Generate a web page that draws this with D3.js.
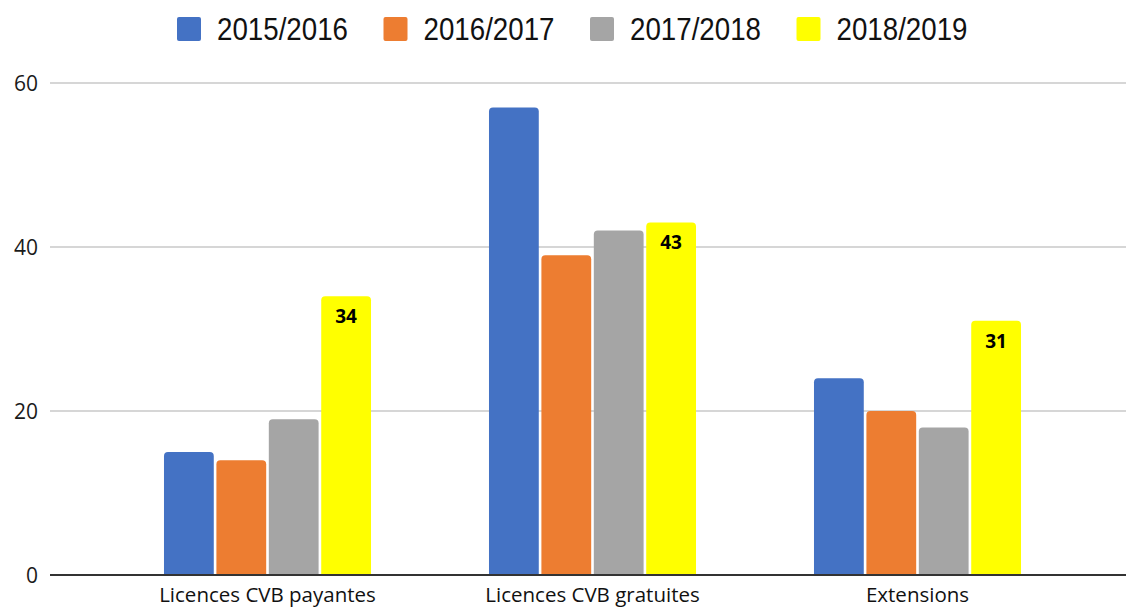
<!DOCTYPE html>
<html>
<head>
<meta charset="utf-8">
<script src="https://cdn.jsdelivr.net/npm/d3@7"></script>
<style>
  body { margin: 0; background: #fff; }
  svg { display: block; }
</style>
</head>
<body>
<svg id="chart" width="1126" height="608"></svg>
<script>
// data
var categories = ['Licences CVB payantes', 'Licences CVB gratuites', 'Extensions'];
var seasons = ['2015/2016', '2016/2017', '2017/2018', '2018/2019'];
var colors = ['#4472C4', '#ED7D31', '#A5A5A5', '#FFFF00'];
var values = [
	[15, 14, 19, 34],
	[57, 39, 42, 43],
	[24, 20, 18, 31]
];
var labelledSeason = '2018/2019';
var yTicks = [0, 20, 40, 60];

var width = 1126, height = 608;
var plotLeft = 50, plotRight = 1126;
var svg = d3.select('#chart');

var x0 = d3.scaleBand().domain(categories).range([105, 1080]).paddingInner(0.363).paddingOuter(0.1815);
var x1 = d3.scaleBand().domain(seasons).range([0, x0.bandwidth()]).paddingInner(0.05);
var y = d3.scaleLinear().domain([0, 60]).range([575, 83]);
var color = d3.scaleOrdinal().domain(seasons).range(colors);

// gridlines
svg.append('g')
	.selectAll('line')
	.data(yTicks.filter(function (d) { return d > 0; }))
	.enter().append('line')
	.attr('x1', plotLeft).attr('x2', plotRight)
	.attr('y1', function (d) { return y(d); })
	.attr('y2', function (d) { return y(d); })
	.attr('stroke', '#c8c8c8')
	.attr('stroke-width', 1.5);

// y axis labels
var yAxis = d3.axisLeft(y).tickValues(yTicks).tickSize(0).tickPadding(0);
var yg = svg.append('g').attr('transform', 'translate(38,0)').call(yAxis);
yg.select('.domain').remove();
yg.selectAll('text')
	.attr('font-family', 'Open Sans, sans-serif')
	.attr('font-size', 21)
	.attr('fill', '#1a1a1a')
	.attr('dy', '0.35em');

// rounded-top bar path
function barPath(x, yTop, w, h, r) {
	r = Math.min(r, h, w / 2);
	return 'M' + x + ',' + (yTop + h) +
		'V' + (yTop + r) +
		'Q' + x + ',' + yTop + ' ' + (x + r) + ',' + yTop +
		'H' + (x + w - r) +
		'Q' + (x + w) + ',' + yTop + ' ' + (x + w) + ',' + (yTop + r) +
		'V' + (yTop + h) + 'Z';
}

var groups = svg.append('g')
	.selectAll('g')
	.data(categories)
	.enter().append('g')
	.attr('transform', function (d) { return 'translate(' + x0(d) + ',0)'; });

groups.selectAll('path')
	.data(function (d, i) {
		return seasons.map(function (s, j) { return { season: s, value: values[i][j] }; });
	})
	.enter().append('path')
	.attr('d', function (d) {
		return barPath(x1(d.season), y(d.value), x1.bandwidth(), y(0) - y(d.value), 4);
	})
	.attr('fill', function (d) { return color(d.season); });

groups.selectAll('text.value')
	.data(function (d, i) {
		return [{ season: labelledSeason, value: values[i][seasons.indexOf(labelledSeason)] }];
	})
	.enter().append('text')
	.attr('class', 'value')
	.attr('x', function (d) { return x1(d.season) + x1.bandwidth() / 2; })
	.attr('y', function (d) { return y(d.value) + 27; })
	.attr('text-anchor', 'middle')
	.attr('font-family', 'Open Sans, sans-serif')
	.attr('font-weight', 'bold')
	.attr('font-size', 19)
	.attr('fill', '#000')
	.text(function (d) { return d.value; });

// baseline
svg.append('line')
	.attr('x1', plotLeft).attr('x2', plotRight)
	.attr('y1', y(0)).attr('y2', y(0))
	.attr('stroke', '#333')
	.attr('stroke-width', 2);

// x axis labels
var xAxis = d3.axisBottom(x0).tickSize(0).tickPadding(0);
var xg = svg.append('g').attr('transform', 'translate(0,' + 602 + ')').call(xAxis);
xg.select('.domain').remove();
xg.selectAll('text')
	.attr('font-family', 'Open Sans, sans-serif')
	.attr('font-size', 20.5)
	.attr('fill', '#111')
	.attr('dy', 0);

// legend
var legend = svg.append('g');
var entries = legend.selectAll('g')
	.data(seasons)
	.enter().append('g')
	.attr('transform', function (d, i) { return 'translate(' + (177 + i * 206.5) + ',0)'; });
entries.append('rect')
	.attr('x', 0).attr('y', 17)
	.attr('width', 24).attr('height', 24)
	.attr('rx', 2)
	.attr('fill', function (d) { return color(d); });
entries.append('text')
	.attr('x', 40).attr('y', 40)
	.attr('font-family', 'Liberation Sans Narrow, Arial Narrow, sans-serif')
	.attr('font-size', 31)
	.attr('textLength', 131)
	.attr('lengthAdjust', 'spacingAndGlyphs')
	.attr('fill', '#111')
	.text(function (d) { return d; });
</script>
</body>
</html>
